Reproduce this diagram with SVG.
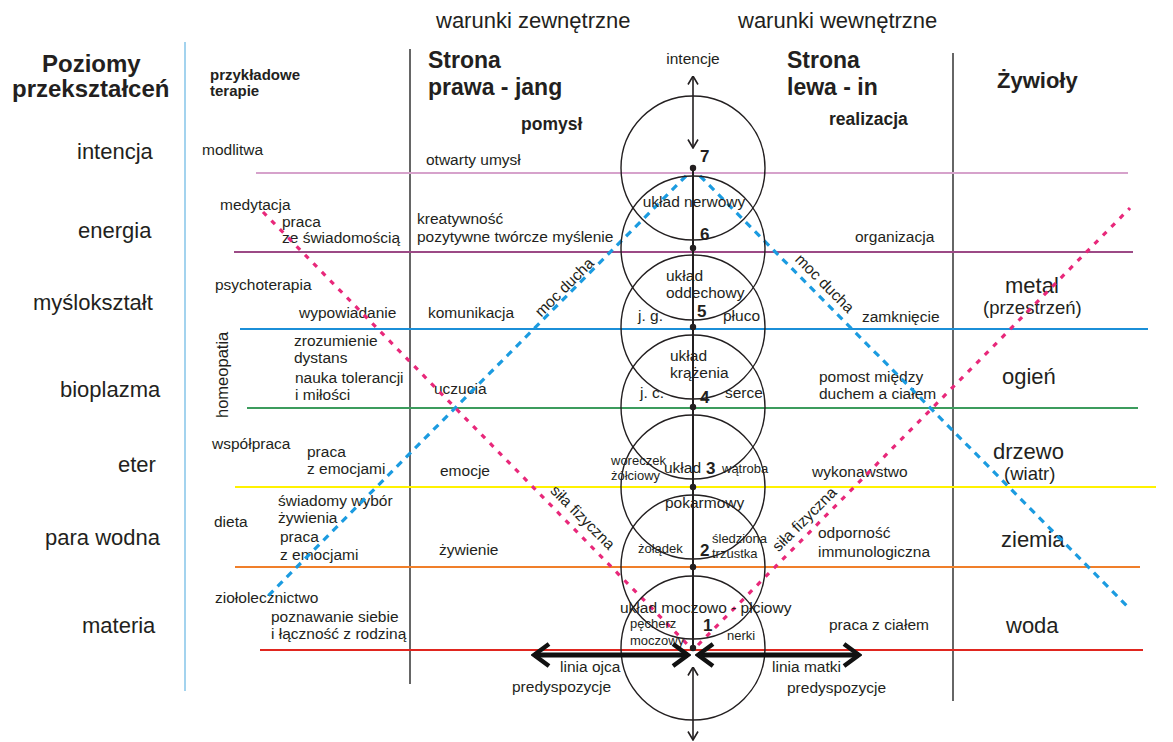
<svg xmlns="http://www.w3.org/2000/svg" width="1173" height="742" viewBox="0 0 1173 742">
<style>
text{font-family:"Liberation Sans",Arial,sans-serif;fill:#231f20;font-size:15.5px}
.s{font-size:13px}
.lvl{font-size:22px}
.hd{font-size:22px}
.b{font-weight:bold}
.num{font-size:17px;font-weight:bold}
.el{font-size:22px}
.elp{font-size:18.5px}
.circ{fill:none;stroke:#231f20;stroke-width:1.4}
.lev{fill:none;stroke-width:2.2}
.dashb{fill:none;stroke:#1b9be0;stroke-width:3.2;stroke-dasharray:7 6}
.dashp{fill:none;stroke:#e8287a;stroke-width:3.2;stroke-dasharray:5 7}
.thin{fill:none;stroke:#231f20;stroke-width:1.6}
.thick{fill:none;stroke:#111;stroke-width:5}
</style>
<defs>
<marker id="ah" viewBox="0 0 10 12" refX="9.5" refY="6" markerWidth="10" markerHeight="12" markerUnits="userSpaceOnUse" orient="auto-start-reverse">
<path d="M1,1 L9.5,6 L1,11" fill="none" stroke="#231f20" stroke-width="1.6"/>
</marker>
<marker id="ahT" viewBox="0 0 20 26" refX="17" refY="13" markerWidth="20" markerHeight="26" markerUnits="userSpaceOnUse" orient="auto-start-reverse">
<path d="M2,2 L17,13 L2,24" fill="none" stroke="#111" stroke-width="4.5"/>
</marker>
</defs>
<rect width="1173" height="742" fill="#fff"/>

<g id="grid">
<line x1="185" y1="42" x2="185" y2="691" stroke="#8cc8ea" stroke-width="1.6"/>
<line x1="410" y1="49" x2="410" y2="684" stroke="#333" stroke-width="1.5"/>
<line x1="953" y1="53" x2="953" y2="701" stroke="#333" stroke-width="1.5"/>
<line class="lev" x1="256" y1="173" x2="1128" y2="173" stroke="#d6a2cb"/>
<line class="lev" x1="234" y1="252" x2="1133" y2="252" stroke="#9c4a86"/>
<line class="lev" x1="240" y1="329" x2="1148" y2="329" stroke="#1b8fd8"/>
<line class="lev" x1="247" y1="408" x2="1138" y2="408" stroke="#3c9c5d"/>
<line class="lev" x1="235" y1="487" x2="1156" y2="487" stroke="#fff200"/>
<line class="lev" x1="235" y1="567" x2="1140" y2="567" stroke="#f07f2a"/>
<line class="lev" x1="260" y1="650" x2="1143" y2="650" stroke="#e0261f"/>
</g>

<g id="headers">
<text class="hd" x="436" y="28">warunki zewnętrzne</text>
<text class="hd" x="738" y="28">warunki wewnętrzne</text>
<text class="b" style="font-size:24px" x="42" y="72">Poziomy</text>
<text class="b" style="font-size:24px" x="12" y="97">przekształceń</text>
<text class="b" style="font-size:15px" x="210" y="80">przykładowe</text>
<text class="b" style="font-size:15px" x="210" y="96">terapie</text>
<text class="b" style="font-size:23px" x="428" y="68">Strona</text>
<text class="b" style="font-size:23px" x="428" y="95">prawa - jang</text>
<text class="b" style="font-size:17.5px" x="521" y="130">pomysł</text>
<text class="b" style="font-size:23px" x="787" y="68">Strona</text>
<text class="b" style="font-size:23px" x="787" y="95">lewa - in</text>
<text class="b" style="font-size:17.5px" x="829" y="125">realizacja</text>
<text class="b" style="font-size:22px" x="997" y="88">Żywioły</text>
<text x="693" y="64" text-anchor="middle">intencje</text>
</g>

<g id="levels">
<text class="lvl" x="77" y="159">intencja</text>
<text class="lvl" x="78" y="238">energia</text>
<text class="lvl" x="33" y="310">myślokształt</text>
<text class="lvl" x="60" y="397">bioplazma</text>
<text class="lvl" x="118" y="472">eter</text>
<text class="lvl" x="45" y="545">para wodna</text>
<text class="lvl" x="82" y="633">materia</text>
</g>

<g id="therapies">
<text x="202" y="155">modlitwa</text>
<text x="220" y="210">medytacja</text>
<text x="282" y="227">praca</text>
<text x="282" y="243">ze świadomością</text>
<text x="215" y="290">psychoterapia</text>
<text x="299" y="318">wypowiadanie</text>
<text x="294" y="346">zrozumienie</text>
<text x="294" y="363">dystans</text>
<text x="295" y="383">nauka tolerancji</text>
<text x="295" y="400">i miłości</text>
<text transform="translate(228,418) rotate(-90)" style="font-size:16.5px">homeopatia</text>
<text x="212" y="449">współpraca</text>
<text x="307" y="457">praca</text>
<text x="307" y="474">z emocjami</text>
<text x="278" y="506">świadomy wybór</text>
<text x="278" y="523">żywienia</text>
<text x="214" y="527">dieta</text>
<text x="280" y="542">praca</text>
<text x="280" y="560">z emocjami</text>
<text x="215" y="603">ziołolecznictwo</text>
<text x="271" y="622">poznawanie siebie</text>
<text x="271" y="639">i łączność z rodziną</text>
</g>

<g id="right-side">
<text x="426" y="165">otwarty umysł</text>
<text x="417" y="224">kreatywność</text>
<text x="417" y="242">pozytywne twórcze myślenie</text>
<text x="428" y="318">komunikacja</text>
<text x="434" y="394">uczucia</text>
<text x="440" y="476">emocje</text>
<text x="439" y="555">żywienie</text>
<text x="560" y="672">linia ojca</text>
<text x="512" y="692">predyspozycje</text>
</g>

<g id="left-side">
<text x="855" y="242">organizacja</text>
<text x="862" y="322">zamknięcie</text>
<text x="819" y="382">pomost między</text>
<text x="819" y="399">duchem a ciałem</text>
<text x="812" y="477">wykonawstwo</text>
<text x="818" y="538">odporność</text>
<text x="818" y="557">immunologiczna</text>
<text x="829" y="630">praca z ciałem</text>
<text x="772" y="672">linia matki</text>
<text x="787" y="693">predyspozycje</text>
</g>

<g id="elements">
<text class="el" x="1005" y="293">metal</text>
<text class="elp" x="983" y="314">(przestrzeń)</text>
<text class="el" x="1002" y="384">ogień</text>
<text class="el" x="993" y="459">drzewo</text>
<text class="elp" x="1004" y="480">(wiatr)</text>
<text class="el" x="1001" y="547">ziemia</text>
<text class="el" x="1006" y="633">woda</text>
</g>

<g id="diagonals">
<line class="dashb" x1="686" y1="176" x2="267" y2="597"/>
<line class="dashb" x1="700" y1="176" x2="1127" y2="606"/>
<line class="dashp" x1="263" y1="212" x2="688" y2="645"/>
<line class="dashp" x1="698" y1="645" x2="1130" y2="208"/>
<text transform="translate(568,291) rotate(-45)" text-anchor="middle">moc ducha</text>
<text transform="translate(821,287) rotate(45)" text-anchor="middle">moc ducha</text>
<text transform="translate(579,521) rotate(45)" text-anchor="middle">siła fizyczna</text>
<text transform="translate(808,523) rotate(-45)" text-anchor="middle">siła fizyczna</text>
</g>

<g id="chakra-7">
<circle class="circ" cx="693" cy="168" r="72"/>
<text class="num" x="700" y="162">7</text>
</g>
<g id="chakra-6">
<circle class="circ" cx="693" cy="248" r="72"/>
<text x="694" y="207" text-anchor="middle">układ nerwowy</text>
<text class="num" x="700" y="240">6</text>
</g>
<g id="chakra-5">
<circle class="circ" cx="693" cy="327" r="72"/>
<text x="666" y="281">układ</text>
<text x="666" y="298">oddechowy</text>
<text class="num" x="697" y="317">5</text>
<text x="638" y="321">j. g.</text>
<text x="723" y="321">płuco</text>
</g>
<g id="chakra-4">
<circle class="circ" cx="693" cy="407" r="72"/>
<text x="670" y="361">układ</text>
<text x="670" y="378">krążenia</text>
<text x="640" y="398">j. c.</text>
<text class="num" x="700" y="403">4</text>
<text x="725" y="398">serce</text>
</g>
<g id="chakra-3">
<circle class="circ" cx="693" cy="487" r="72"/>
<text class="s" x="611" y="465">woreczek</text>
<text class="s" x="611" y="480">żółciowy</text>
<text x="664" y="473">układ</text>
<text class="num" x="706" y="474">3</text>
<text class="s" x="722" y="473">wątroba</text>
<text x="665" y="508">pokarmowy</text>
</g>
<g id="chakra-2">
<circle class="circ" cx="693" cy="567" r="72"/>
<text class="s" x="638" y="553">żołądek</text>
<text class="num" x="700" y="556">2</text>
<text class="s" x="712" y="543">śledziona</text>
<text class="s" x="712" y="558">trzustka</text>
</g>
<g id="chakra-1">
<circle class="circ" cx="693" cy="648" r="72"/>
<text x="620" y="613">układ moczowo - płciowy</text>
<text class="s" x="630" y="628">pęcherz</text>
<text class="s" x="630" y="645">moczowy</text>
<text class="num" x="703" y="631">1</text>
<text class="s" x="727" y="640">nerki</text>
</g>

<g id="connectors">
<line x1="693" y1="168" x2="693" y2="648" stroke="#231f20" stroke-width="2"/>
<g fill="#231f20">
<circle cx="693" cy="168" r="3.2"/>
<circle cx="693" cy="248" r="3.2"/>
<circle cx="693" cy="327" r="3.2"/>
<circle cx="693" cy="407" r="3.2"/>
<circle cx="693" cy="487" r="3.2"/>
<circle cx="693" cy="567" r="3.2"/>
<circle cx="693" cy="648" r="3.2"/>
</g>
<line class="thin" x1="693" y1="76" x2="693" y2="148" marker-start="url(#ah)" marker-end="url(#ah)"/>
<line class="thin" x1="693" y1="667" x2="693" y2="740" marker-start="url(#ah)" marker-end="url(#ah)"/>
<line class="thick" x1="534" y1="655" x2="688" y2="655" marker-start="url(#ahT)" marker-end="url(#ahT)"/>
<line class="thick" x1="698" y1="655" x2="859" y2="655" marker-start="url(#ahT)" marker-end="url(#ahT)"/>
</g>
</svg>
